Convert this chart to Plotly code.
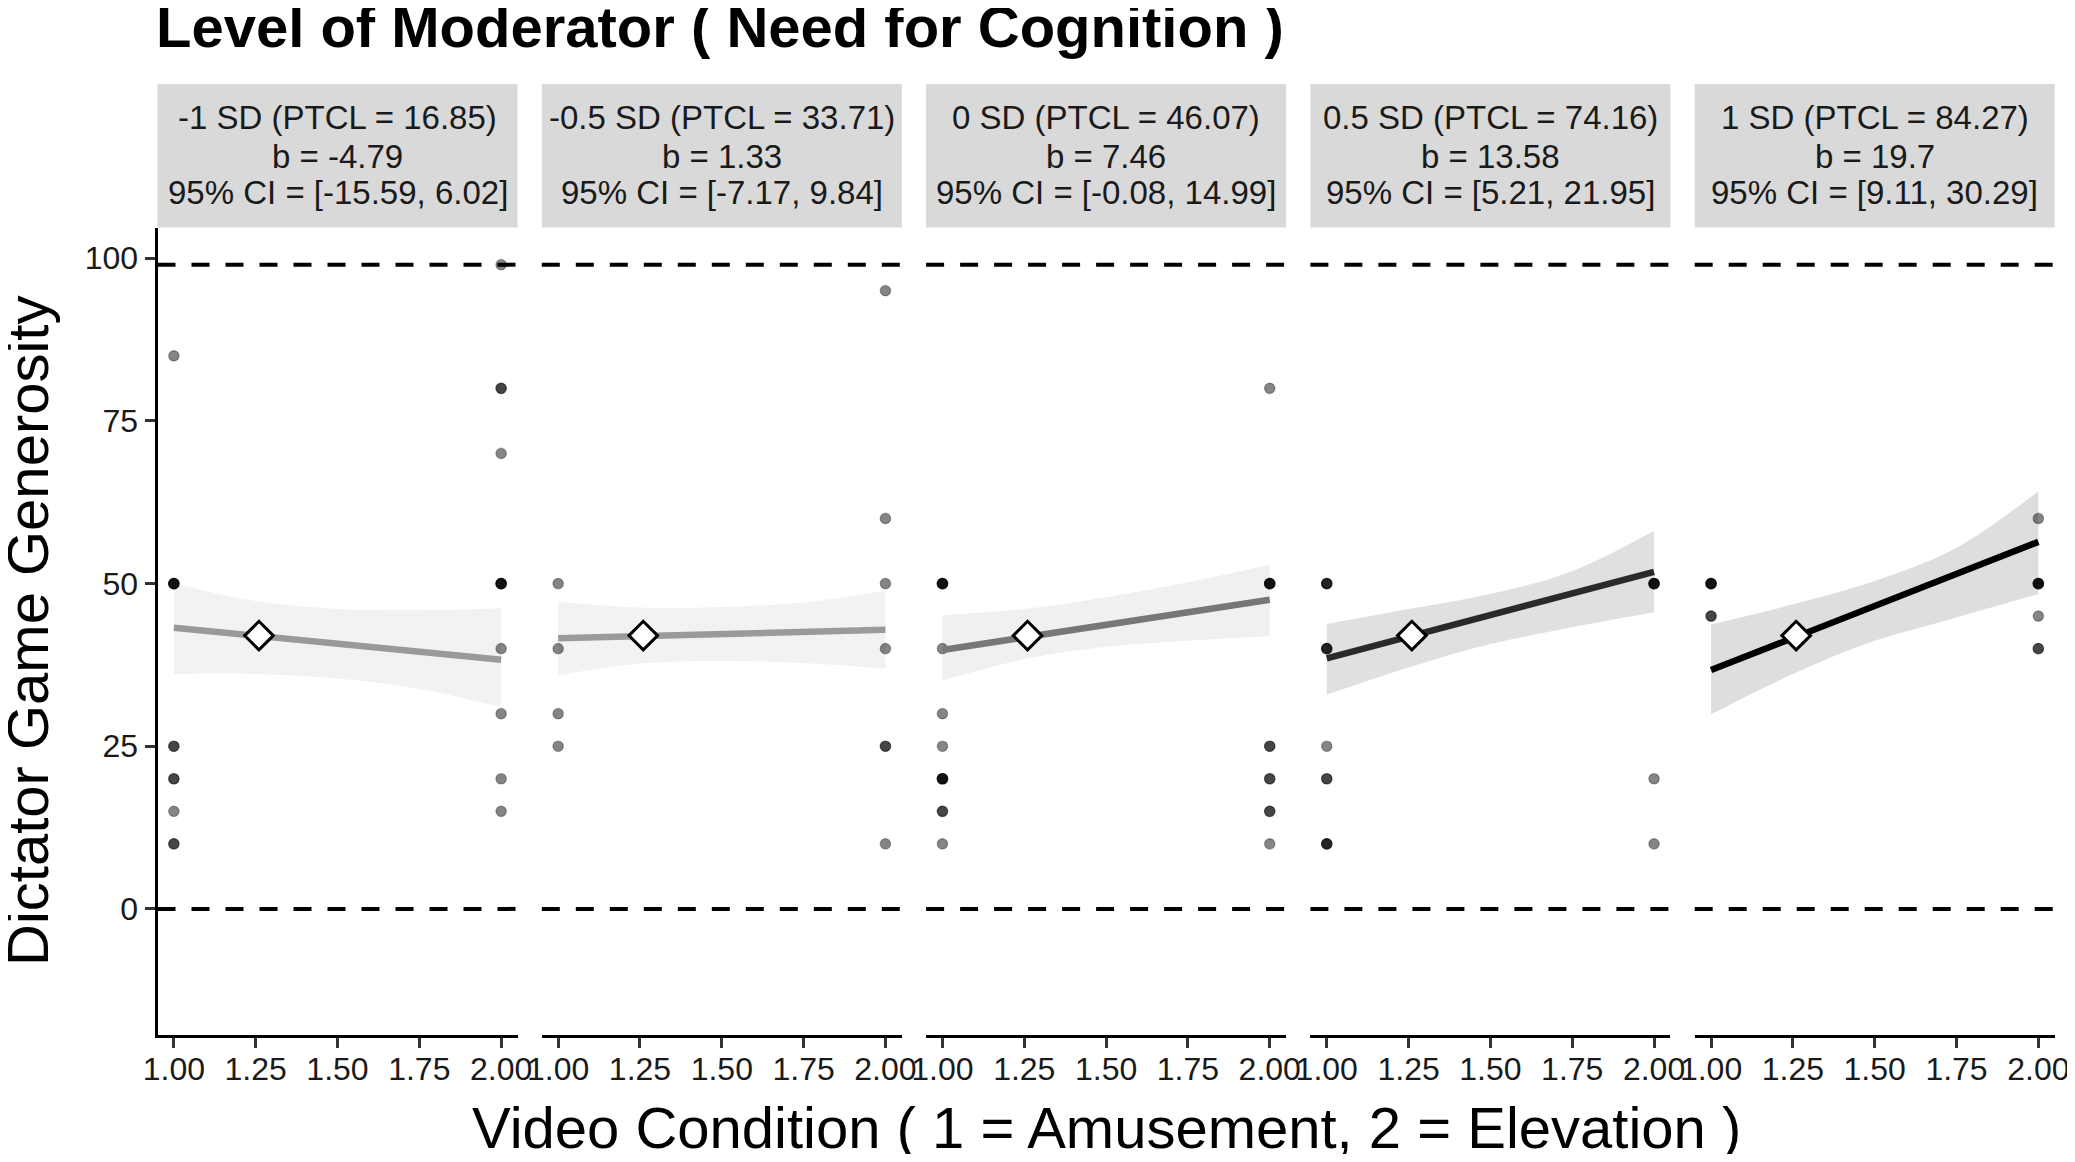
import plotly.graph_objects as go

# ---- data ----
strip_line1 = ["-1 SD (PTCL = 16.85)", "-0.5 SD (PTCL = 33.71)", "0 SD (PTCL = 46.07)",
               "0.5 SD (PTCL = 74.16)", "1 SD (PTCL = 84.27)"]
strip_line2 = ["b = -4.79", "b = 1.33", "b = 7.46", "b = 13.58", "b = 19.7"]
strip_line3 = ["95% CI = [-15.59, 6.02]", "95% CI = [-7.17, 9.84]", "95% CI = [-0.08, 14.99]",
               "95% CI = [5.21, 21.95]", "95% CI = [9.11, 30.29]"]

# observed scores at condition 1 and 2 (repeats = overlapping points)
pts_amuse = [
    [85, 50, 50, 50, 50, 25, 25, 20, 20, 15, 10, 10],
    [50, 40, 30, 25],
    [50, 50, 50, 50, 40, 30, 25, 20, 20, 20, 20, 15, 15, 10],
    [50, 50, 50, 40, 40, 40, 25, 20, 20, 10, 10, 10],
    [50, 50, 50, 50, 45, 45],
]
pts_elev = [
    [99, 80, 80, 70, 50, 50, 50, 50, 40, 30, 20, 15],
    [95, 60, 50, 40, 25, 25, 10],
    [80, 50, 50, 50, 50, 25, 25, 20, 20, 15, 15, 10],
    [50, 50, 50, 50, 20, 10],
    [60, 50, 50, 50, 50, 45, 40, 40],
]

# fitted simple slopes (value at condition 1 and at condition 2)
fit_start = [43.2, 41.6, 39.8, 38.5, 36.7]
fit_end = [38.3, 42.9, 47.5, 51.8, 56.4]

# confidence bands
band_x = [1.0, 1.25, 1.5, 1.75, 2.0]
band_upper = [
    [50.0, 47.3, 46.1, 45.9, 46.2],
    [47.2, 46.3, 46.4, 47.1, 48.9],
    [45.1, 46.1, 47.9, 50.2, 52.9],
    [43.8, 46.1, 48.4, 51.9, 58.1],
    [43.7, 46.8, 50.4, 55.5, 64.2],
]
band_lower = [
    [36.1, 36.1, 35.4, 33.8, 31.0],
    [35.9, 37.7, 38.1, 37.8, 36.9],
    [35.1, 38.4, 40.3, 41.2, 41.9],
    [32.9, 37.1, 40.7, 43.3, 45.6],
    [29.9, 36.1, 41.2, 44.8, 48.4],
]

mean_x = [1.26, 1.26, 1.26, 1.26, 1.26]
mean_y = [42, 42, 42, 42, 42]
ref_lines = [0, 99]

x_ticks = [1, 1.25, 1.5, 1.75, 2]
x_ticktext = ["1.00", "1.25", "1.50", "1.75", "2.00"]
y_ticks = [0, 25, 50, 75, 100]

# ---- styling ----
# page body has an 8px margin, so the figure is made smaller and shifted
OFF = 8
W, H = 2075 - 2 * OFF, 1162 - 2 * OFF
FONT = "Liberation Sans, Arial, sans-serif"
line_cols = ["#999999", "#9a9a9a", "#777777", "#2a2a2a", "#000000"]
band_cols = ["#f2f2f2", "#f2f2f2", "#f0f0f0", "#e0e0e0", "#dedede"]

left0, pw, step = 157.5, 360, 384.3
p_top, p_bot, s_top = 227.6, 1034.5, 84


def fx(p):
    return (p - OFF) / W


def fy(p):
    return 1 - (p - OFF) / H


fig = go.Figure()
shapes = []
annotations = []

for i in range(5):
    n = i + 1
    xa = "x" if n == 1 else "x%d" % n
    ya = "y" if n == 1 else "y%d" % n

    # band
    fig.add_trace(go.Scatter(x=band_x, y=band_lower[i], xaxis=xa, yaxis=ya, mode="lines",
                             line=dict(width=0, shape="spline", color=band_cols[i]),
                             showlegend=False, hoverinfo="skip"))
    fig.add_trace(go.Scatter(x=band_x, y=band_upper[i], xaxis=xa, yaxis=ya, mode="lines",
                             line=dict(width=0, shape="spline", color=band_cols[i]),
                             fill="tonexty", fillcolor=band_cols[i],
                             showlegend=False, hoverinfo="skip"))
    # raw points
    xs = [1] * len(pts_amuse[i]) + [2] * len(pts_elev[i])
    ys = pts_amuse[i] + pts_elev[i]
    fig.add_trace(go.Scatter(x=xs, y=ys, xaxis=xa, yaxis=ya, mode="markers",
                             marker=dict(size=10.5, color="rgba(0,0,0,0.48)",
                                         line=dict(width=1.2, color="rgba(0,0,0,0.3)")),
                             showlegend=False))
    # simple slope
    fig.add_trace(go.Scatter(x=[1, 2], y=[fit_start[i], fit_end[i]], xaxis=xa, yaxis=ya,
                             mode="lines", line=dict(width=6.5, color=line_cols[i]),
                             showlegend=False))
    # mean diamond
    fig.add_trace(go.Scatter(x=[mean_x[i]], y=[mean_y[i]], xaxis=xa, yaxis=ya, mode="markers",
                             marker=dict(symbol="diamond", size=22, color="white",
                                         line=dict(width=3, color="black")),
                             showlegend=False))

    # dashed reference lines
    for v in ref_lines:
        shapes.append(dict(type="line", xref=xa + " domain", yref=ya, x0=0, x1=1, y0=v, y1=v,
                           line=dict(color="black", width=4, dash="18px,16px"), layer="below"))

    # strip
    l = left0 + step * i
    shapes.append(dict(type="rect", xref="paper", yref="paper", x0=fx(l), x1=fx(l + pw),
                       y0=fy(p_top), y1=fy(s_top), fillcolor="#d9d9d9", line=dict(width=0),
                       layer="below"))
    for txt, yc in zip([strip_line1[i], strip_line2[i], strip_line3[i]], [118, 156, 192]):
        annotations.append(dict(text=txt, xref="paper", yref="paper", x=fx(l + pw / 2), y=fy(yc),
                                xanchor="center", yanchor="middle", showarrow=False,
                                font=dict(family=FONT, size=33, color="#1a1a1a")))

    xaxis = dict(domain=[fx(l), fx(l + pw)], range=[0.95, 2.05], anchor=ya,
                 tickvals=x_ticks, ticktext=x_ticktext, ticks="outside", ticklen=10,
                 tickwidth=2.5, tickcolor="#333333", showline=True, linecolor="black",
                 linewidth=3, showgrid=False, zeroline=False, ticklabeloverflow="allow",
                 ticklabelstandoff=-6,
                 tickfont=dict(family=FONT, size=32, color="#1a1a1a"))
    yaxis = dict(domain=[fy(p_bot), fy(p_top)], range=[-19.3, 104.7], anchor=xa,
                 showgrid=False, zeroline=False)
    if n == 1:
        yaxis.update(showline=True, linecolor="black", linewidth=3, ticks="outside", ticklen=10,
                     tickwidth=2.5, tickcolor="#333333", tickvals=y_ticks,
                     tickfont=dict(family=FONT, size=32, color="#1a1a1a"))
    else:
        yaxis.update(showline=False, showticklabels=False, ticks="")
    fig.layout["xaxis" if n == 1 else "xaxis%d" % n] = xaxis
    fig.layout["yaxis" if n == 1 else "yaxis%d" % n] = yaxis

annotations.append(dict(text="<b>Level of Moderator ( Need for Cognition )</b>", xref="paper",
                        yref="paper", x=fx(154), y=fy(27), xanchor="left", yanchor="middle",
                        showarrow=False, font=dict(family=FONT, size=58, color="black")))
annotations.append(dict(text="Dictator Game Generosity", xref="paper", yref="paper",
                        x=fx(27), y=fy(631), textangle=-90, xanchor="center", yanchor="middle",
                        showarrow=False, font=dict(family=FONT, size=58, color="black")))
annotations.append(dict(text="Video Condition ( 1 = Amusement, 2 = Elevation )", xref="paper",
                        yref="paper", x=fx(1106), y=fy(1127), xanchor="center", yanchor="middle",
                        showarrow=False, font=dict(family=FONT, size=58, color="black")))

fig.update_layout(width=W, height=H, margin=dict(l=0, r=0, t=0, b=0, autoexpand=False),
                  paper_bgcolor="white", plot_bgcolor="white", shapes=shapes,
                  annotations=annotations, font=dict(family=FONT))

fig.write_html("out.html")
